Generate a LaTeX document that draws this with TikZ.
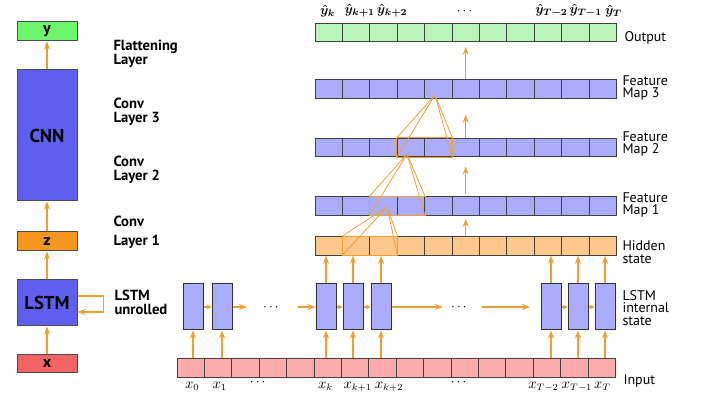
\documentclass[tikz,border=0pt]{standalone}
\usepackage{fontspec}
\usepackage{amsmath}
\setsansfont{PT Sans}
\usetikzlibrary{arrows.meta,calc}

\definecolor{arrorange}{RGB}{240,160,50}
\definecolor{ygreen}{RGB}{110,245,110}
\definecolor{outgreen}{RGB}{185,245,185}
\definecolor{netblue}{RGB}{95,95,240}
\definecolor{zorange}{RGB}{245,150,30}
\definecolor{xred}{RGB}{242,100,100}
\definecolor{mapblue}{RGB}{172,172,255}
\definecolor{hidorange}{RGB}{252,200,140}
\definecolor{inpink}{RGB}{255,172,172}

\tikzset{every picture/.style={line width=0.75pt}}
\tikzset{
  cell/.style={draw=black!75, minimum width=20.55pt, minimum height=13.9pt, inner sep=0pt, line width=0.6pt},
  unit/.style={draw=black!80, fill=mapblue, minimum width=15pt, minimum height=34.5pt, inner sep=0pt},
  bigbox/.style={draw=black!70, minimum width=45pt, inner sep=0pt},
  arr/.style={draw=arrorange, line width=1.15pt, -{Stealth[length=6pt,width=4.5pt]}},
  arrsmall/.style={draw=arrorange, line width=1.15pt, -{Stealth[length=3.5pt,width=3.5pt]}},
  cone/.style={draw=arrorange, line width=0.6pt},
  leftlab/.style={anchor=west, align=left, inner sep=0pt, font=\sffamily\bfseries\fontsize{11}{10.5}\selectfont},
  rightlab/.style={anchor=west, align=left, inner sep=0pt, font=\sffamily\fontsize{10.5}{9.5}\selectfont},
  yhat/.style={anchor=south west, inner sep=0pt, font=\boldmath\fontsize{10}{12}\selectfont},
  xlab/.style={anchor=north west, inner sep=0pt, font=\fontsize{10.5}{12}\selectfont},
}

\begin{document}
\begin{tikzpicture}[x=0.75pt,y=0.75pt,yscale=-1,xscale=1]
\useasboundingbox (0,0) rectangle (708,406);

% left column: model blocks
\node[bigbox, fill=ygreen, minimum height=14.25pt, font=\sffamily\bfseries\large] (ybox) at (47,31.5) {y};
\node[bigbox, fill=netblue, minimum height=98.25pt, font=\sffamily\bfseries\fontsize{14}{16}\selectfont] (cnn) at (47,135.5) {CNN};
\node[bigbox, fill=zorange, minimum height=14.25pt, font=\sffamily\bfseries\large] (zbox) at (47,241.5) {z};
\node[bigbox, fill=netblue, minimum height=34.5pt, font=\sffamily\bfseries\fontsize{14}{16}\selectfont] (lstm) at (47,303) {LSTM};
\node[bigbox, fill=xred, minimum height=13.5pt, font=\sffamily\bfseries\large] (xbox) at (47,364) {x};

\draw[arr] (cnn.north) -- (ybox.south);
\draw[arr] (zbox.north) -- (cnn.south);
\draw[arr] (lstm.north) -- (zbox.south);
\draw[arr] (xbox.north) -- (lstm.south);
\draw[arr] ($(lstm.east)+(0,-7)$) -- ++(26,0) |- ($(lstm.east)+(0,9)$);

% layer names
\node[leftlab] (flat) at (113,54) {Flattening\\Layer};
\node[leftlab] (conv3) at (113,112) {Conv\\Layer 3};
\node[leftlab] (conv2) at (113,170) {Conv\\Layer 2};
\node[leftlab] (conv1) at (113,232) {Conv\\[3.5pt]Layer 1};
\node[leftlab] (unrolled) at (114,302) {LSTM\\unrolled};

% rows of cells
\foreach \i in {0,...,10} {
  \node[cell, fill=outgreen] (outc\i) at (328.7+27.4*\i,32.5) {};
  \node[cell, fill=mapblue] (mapc\i) at (328.7+27.4*\i,89) {};
  \node[cell, fill=mapblue] (mapb\i) at (328.7+27.4*\i,147.5) {};
  \node[cell, fill=mapblue] (mapa\i) at (328.7+27.4*\i,206) {};
  \node[cell, fill=hidorange] (hidc\i) at (328.7+27.4*\i,246) {};
}
\foreach \i in {0,...,15}
  \node[cell, fill=inpink] (inc\i) at (190.7+27.4*\i,368) {};

% receptive fields
\coordinate (apexa) at (387,207);
\coordinate (apexb) at (407,154);
\coordinate (apexc) at (435,95);
\draw[cone] (hidc1.north west) rectangle (hidc2.south east);
\foreach \c in {hidc1.north west,hidc1.south west,hidc2.north east,hidc2.south east}
  \draw[cone] (apexa) -- (\c);
\draw[cone] (mapa2.north west) rectangle (mapa3.south east);
\foreach \c in {mapa2.north west,mapa2.south west,mapa3.north east,mapa3.south east}
  \draw[cone] (apexb) -- (\c);
\draw[cone] (mapb3.north west) rectangle (mapb4.south east);
\foreach \c in {mapb3.north west,mapb3.south west,mapb4.north east,mapb4.south east}
  \draw[cone] (apexc) -- (\c);

% layer to layer
\draw[arr, shorten >=2.5pt] (hidc5.north) -- (mapa5.south);
\draw[arr, shorten <=2pt, shorten >=7pt] (mapa5.north) -- (mapb5.south);
\draw[arr, shorten >=12pt] (mapb5.north) -- (mapc5.south);
\draw[arr, shorten >=3.5pt] (mapc5.north) -- (outc5.south);

% LSTM units
\node[unit] (u0) at (193,307) {};
\node[unit] (u1) at (222,307) {};
\node[unit] (uk) at (326,307) {};
\node[unit] (uk1) at (353,307) {};
\node[unit] (uk2) at (381,307) {};
\node[unit] (uT2) at (551,307) {};
\node[unit] (uT1) at (578,307) {};
\node[unit] (uT) at (605,307) {};

\draw[arr] (u0 |- inc0.north) -- (u0.south);
\draw[arr] (u1 |- inc1.north) -- (u1.south);
\draw[arr] (uk |- inc5.north) -- (uk.south);
\draw[arr] (uk1 |- inc6.north) -- (uk1.south);
\draw[arr] (uk2 |- inc7.north) -- (uk2.south);
\draw[arr] (uT2 |- inc13.north) -- (uT2.south);
\draw[arr] (uT1 |- inc14.north) -- (uT1.south);
\draw[arr] (uT |- inc15.north) -- (uT.south);

\draw[arr] (uk.north) -- (uk |- hidc0.south);
\draw[arr] (uk1.north) -- (uk1 |- hidc0.south);
\draw[arr] (uk2.north) -- (uk2 |- hidc0.south);
\draw[arr] (uT2.north) -- (uT2 |- hidc0.south);
\draw[arr] (uT1.north) -- (uT1 |- hidc0.south);
\draw[arr] (uT.north) -- (uT |- hidc0.south);

% recurrence
\coordinate (ra) at (247,307);
\coordinate (rb) at (298,307);
\coordinate (rc) at (443,307);
\coordinate (rd) at (482,307);
\coordinate (re) at (530,307);
\node (dotsa) at (272,308) {$\cdots$};
\node (dotsb) at (460,308) {$\cdots$};
\draw[arrsmall] (u0.east) -- (u1.west);
\draw[arr] (u1.east) -- (ra);
\draw[arr] (rb) -- (uk.west);
\draw[arrsmall] (uk.east) -- (uk1.west);
\draw[arrsmall] (uk1.east) -- (uk2.west);
\draw[arr] (uk2.east) -- (rc);
\draw[arr] (rd) -- (re);
\draw[arrsmall] (uT2.east) -- (uT1.west);
\draw[arrsmall] (uT1.east) -- (uT.west);

% output labels
\node[yhat] (yh0) at ($(outc0.north west)+(5,-5)$) {$\hat{y}_{k}$};
\node[yhat] (yh1) at ($(outc1.north west)+(2,-5)$) {$\hat{y}_{k+1}$};
\node[yhat] (yh2) at ($(outc2.north west)+(7,-5)$) {$\hat{y}_{k+2}$};
\node[anchor=south, inner sep=0pt] (yh5) at ($(outc5.north)+(0,-8)$) {$\cdots$};
\node[yhat] (yh8) at ($(outc8.north west)+(1,-5)$) {$\hat{y}_{T-2}$};
\node[yhat] (yh9) at ($(outc9.north west)+(8,-5)$) {$\hat{y}_{T-1}$};
\node[yhat] (yh10) at ($(outc10.north west)+(16,-5)$) {$\hat{y}_{T}$};

% input labels
\node[xlab] (xl0) at ($(inc0.south west)+(8,4)$) {$x_0$};
\node[xlab] (xl1) at ($(inc1.south west)+(8,4)$) {$x_1$};
\node[anchor=north, inner sep=0pt] (xld) at ($(inc3.south west)+(0,1)$) {$\cdots$};
\node[xlab] (xl5) at ($(inc5.south west)+(4,4)$) {$x_k$};
\node[xlab] (xl6) at ($(inc6.south west)+(2,4)$) {$x_{k+1}$};
\node[xlab] (xl7) at ($(inc7.south west)+(6,4)$) {$x_{k+2}$};
\node[anchor=north, inner sep=0pt] (xle) at ($(inc10.south)+(-5,1)$) {$\cdots$};
\node[xlab] (xl13) at ($(inc13.south west)+(-5,4)$) {$x_{T-2}$};
\node[xlab] (xl14) at ($(inc14.south west)+(1,4)$) {$x_{T-1}$};
\node[xlab] (xl15) at ($(inc15.south west)+(6,4)$) {$x_T$};

% row names
\node[rightlab] (outlab) at (624,38) {Output};
\node[rightlab] (fm3lab) at (622,88) {Feature\\Map 3};
\node[rightlab] (fm2lab) at (622,144) {Feature\\Map 2};
\node[rightlab] (fm1lab) at (622,205) {Feature\\Map 1};
\node[rightlab] (hidlab) at (622,252) {Hidden\\state};
\node[rightlab] (intlab) at (622,308) {LSTM\\internal\\state};
\node[rightlab] (inlab) at (623,381) {Input};

\end{tikzpicture}
\end{document}
